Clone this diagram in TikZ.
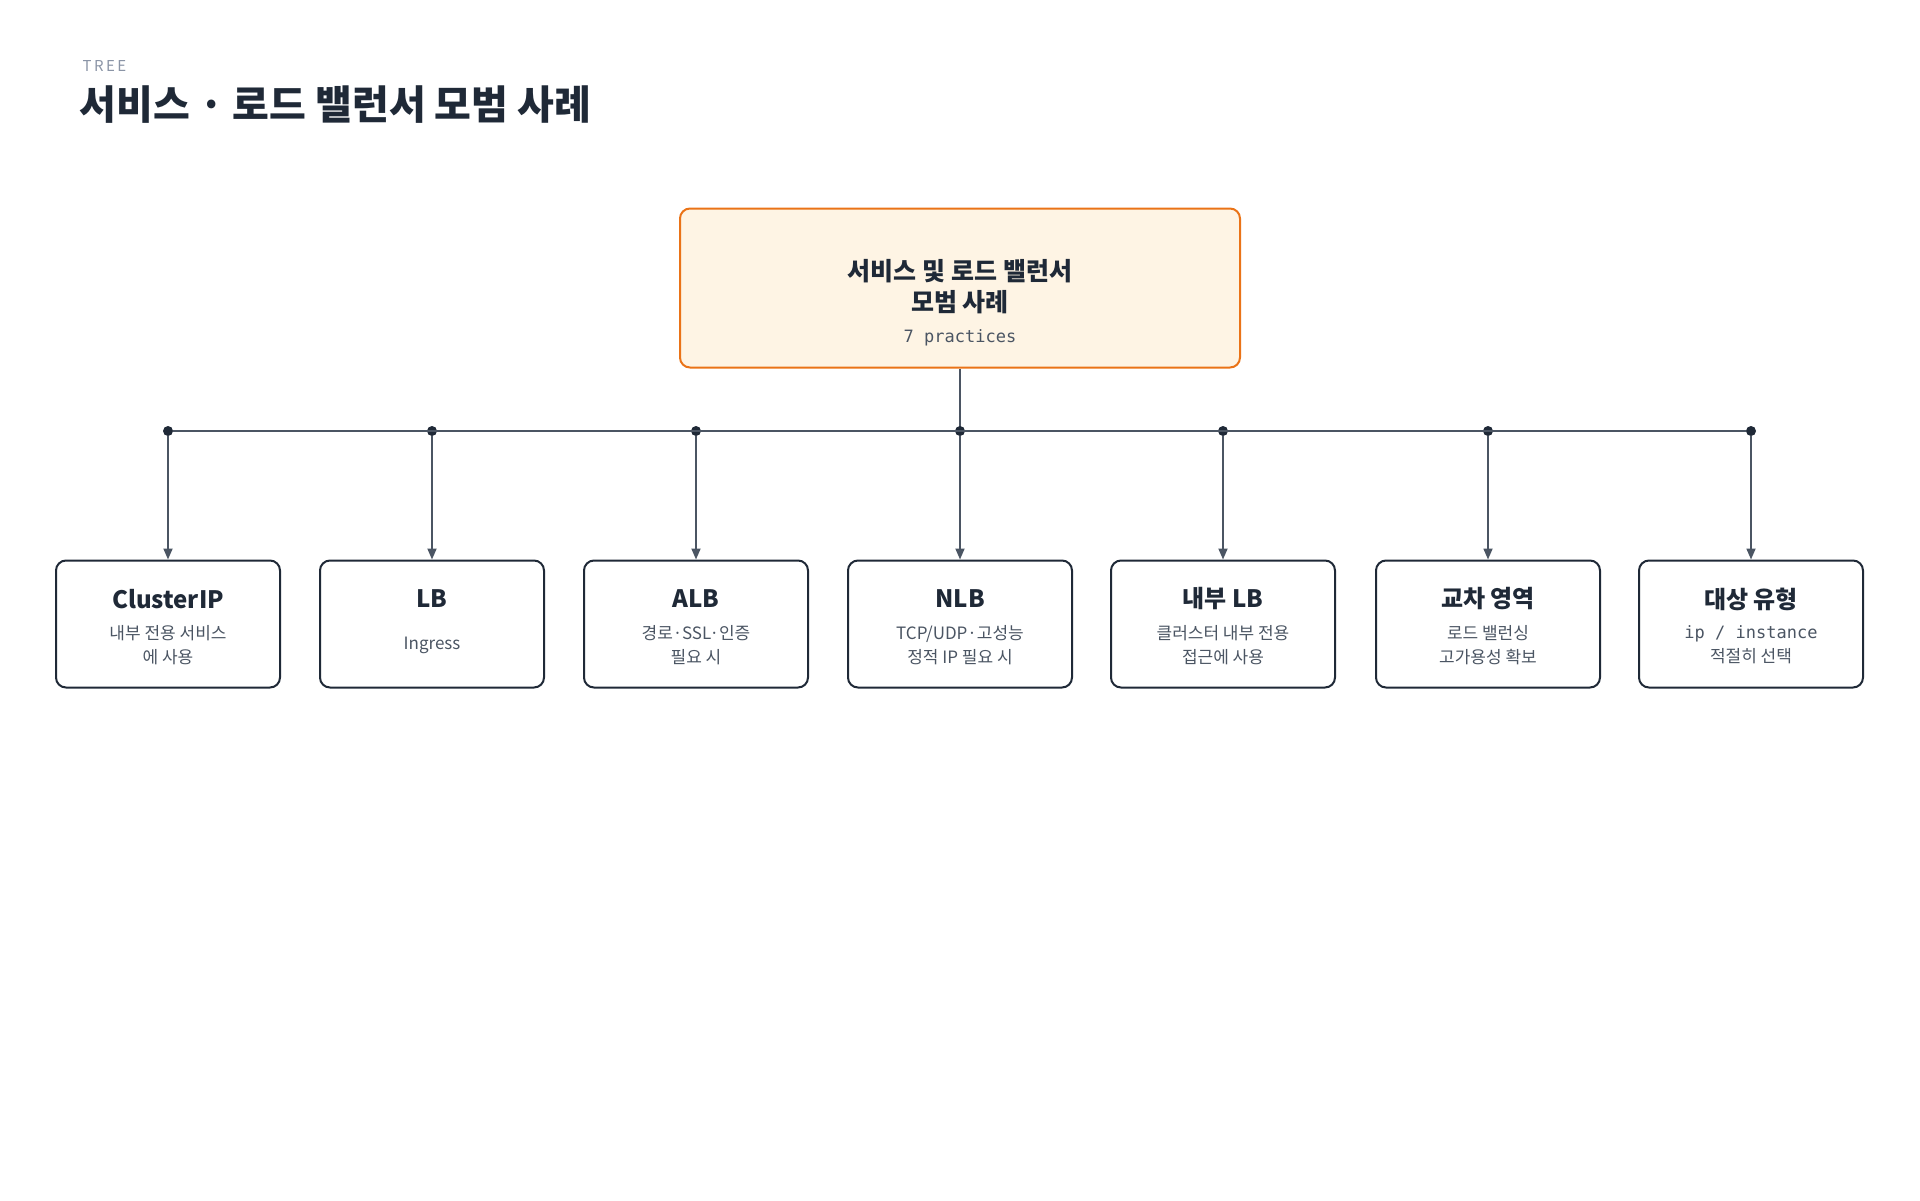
\documentclass[tikz,border=0pt]{standalone}
\usepackage{fontspec}
\setmainfont{Noto Sans CJK KR}
\newfontfamily\monof{DejaVu Sans Mono}
\usetikzlibrary{arrows.meta}
\definecolor{ink}{HTML}{1F2937}
\definecolor{sub}{HTML}{4B5563}
\definecolor{edge}{HTML}{4B5563}
\definecolor{orng}{HTML}{EA7317}
\definecolor{cream}{HTML}{FEF4E4}
\definecolor{tag}{HTML}{8A94A6}
\begin{document}
\begin{tikzpicture}[x=1pt,y=-1pt,
  root/.style={draw=orng,fill=cream,line width=2pt,rounded corners=10pt,minimum width=560pt,minimum height=159pt,align=center},
  child/.style={draw=ink,fill=white,line width=2pt,rounded corners=10pt,minimum width=224pt,minimum height=127pt,align=center,text=ink},
  ttl/.style={font=\fontsize{24}{28}\selectfont\bfseries},
  arr/.style={draw=edge,line width=1.8pt,-{Triangle[length=11pt,width=9pt]}},
  dot/.style={circle,fill=ink,inner sep=0pt,minimum size=10pt}]
\useasboundingbox (0,0) rectangle (1920,1200);
\node[anchor=west,text=tag,font=\fontsize{15}{18}\selectfont] (tg) at (79,66) {T\,R\,E\,E};
\node[anchor=west,text=ink,font=\fontsize{40}{46}\selectfont\bfseries] (title) at (76,105) {서비스 · 로드 밸런서 모범 사례};
\node[root] (r) at (960,288) {};
\node[text=ink,font=\fontsize{25}{31}\selectfont\bfseries,align=center] (rt) at (960,287) {서비스 및 로드 밸런서\\모범 사례};
\node[text=sub,font=\monof\fontsize{17}{20}\selectfont] (rs) at (960,338) {7 practices};
\coordinate (hub) at (960,431);
\draw[edge,line width=1.8pt] (r.south) -- (hub);
\foreach \i/\x/\t/\s in {
 1/168/ClusterIP/{내부 전용 서비스\\에 사용},
 2/432/LB / Ingress/{외부 노출 서비스\\에 사용},
 3/696/ALB/{경로·SSL·인증\\필요 시},
 4/960/NLB/{TCP/UDP·고성능\\정적 IP 필요 시},
 5/1223/내부 LB/{클러스터 내부 전용\\접근에 사용},
 6/1488/교차 영역/{로드 밸런싱\\고가용성 확보},
 7/1751/대상 유형/{{\monof ip / instance}\\적절히 선택}} {
  \node[child] (c\i) at (\x,624) {};
  \node[ttl,text=ink] (ct\i) at (\x,599) {\t};
  \node[text=sub,font=\fontsize{17}{24}\selectfont,align=center] (cs\i) at (\x,645) {\s};
  \node[dot] (d\i) at (\x,431) {};
  \draw[arr] (d\i) -- (c\i.north);
}
\draw[edge,line width=1.8pt] (d1) -- (d7);
\end{tikzpicture}
\end{document}
